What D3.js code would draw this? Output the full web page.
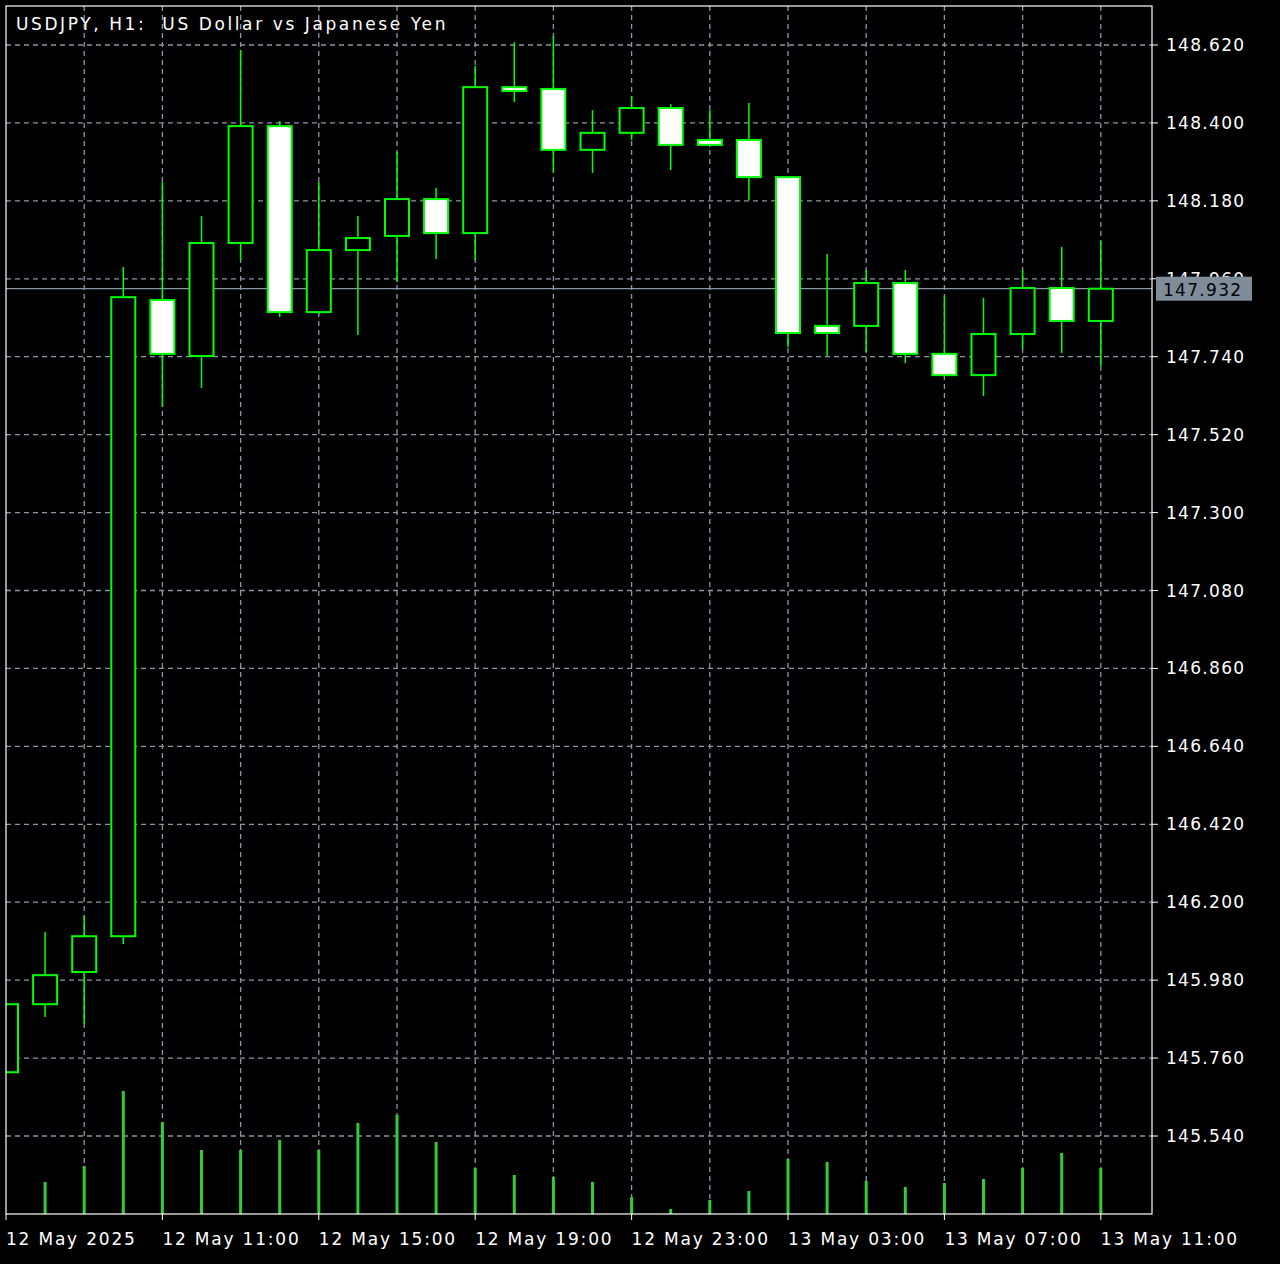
<!DOCTYPE html>
<html><head><meta charset="utf-8">
<script src="https://cdn.jsdelivr.net/npm/d3@7"></script>
<style>body{margin:0;background:#000}svg{display:block}text{white-space:pre}</style></head>
<body><svg id="c" width="1280" height="1264"></svg>
<script>
const times=["12 May 07:00","12 May 08:00","12 May 09:00","12 May 10:00","12 May 11:00","12 May 12:00","12 May 13:00","12 May 14:00","12 May 15:00","12 May 16:00","12 May 17:00","12 May 18:00","12 May 19:00","12 May 20:00","12 May 21:00","12 May 22:00","12 May 23:00","13 May 00:00","13 May 01:00","13 May 02:00","13 May 03:00","13 May 04:00","13 May 05:00","13 May 06:00","13 May 07:00","13 May 08:00","13 May 09:00","13 May 10:00","13 May 11:00"];
const opens=[145.720,145.912,146.003,146.104,147.900,147.742,148.061,148.391,147.866,148.041,148.081,148.185,148.089,148.501,148.496,148.324,148.372,148.442,148.352,148.352,148.247,147.827,147.827,147.948,147.748,147.688,147.804,147.934,147.841];
const closes=[145.912,145.994,146.104,147.908,147.748,148.061,148.391,147.866,148.041,148.075,148.185,148.089,148.501,148.490,148.324,148.372,148.442,148.338,148.338,148.247,147.807,147.807,147.948,147.748,147.688,147.804,147.934,147.841,147.932];
const highs=[145.912,146.116,146.161,147.993,148.233,148.137,148.606,148.405,148.233,148.137,148.318,148.216,148.561,148.628,148.645,148.436,148.476,148.453,148.436,148.456,148.247,148.030,147.985,147.985,147.911,147.906,147.985,148.050,148.067];
const lows=[145.720,145.876,145.856,146.082,147.598,147.652,148.013,147.852,147.860,147.801,147.951,148.016,148.013,148.459,148.261,148.259,148.352,148.267,148.332,148.182,147.767,147.742,147.753,147.722,147.685,147.629,147.762,147.750,147.714];
const volumes=[0,1600,2400,6150,4600,3200,3200,3700,3200,4550,4950,3600,2300,1950,1850,1600,850,250,700,1150,2750,2600,1650,1350,1550,1750,2300,3050,2300];
const priceTicks=[148.620,148.400,148.180,147.960,147.740,147.520,147.300,147.080,146.860,146.640,146.420,146.200,145.980,145.760,145.540];
const title="USDJPY, H1:  US Dollar vs Japanese Yen";
const lastPrice=147.932;

const svg=d3.select("#c");
const L=6,R=1152,T=6,B=1214;
const font="DejaVu Sans";
const x=d3.scaleLinear().domain([0,1]).range([6,45.1]);
const y=d3.scaleLinear().domain([145.540,148.620]).range([1136,45]);
const vy=d3.scaleLinear().domain([0,6150]).range([B,1091]);
const grid="#8c97a6";
svg.append("rect").attr("x",L).attr("y",T).attr("width",R-L).attr("height",B-T).attr("fill","#000");
svg.append("clipPath").attr("id","cp").append("rect").attr("x",L).attr("y",T).attr("width",R-L).attr("height",B-T);
const g=svg.append("g").attr("clip-path","url(#cp)");
priceTicks.forEach(p=>{
 g.append("line").attr("x1",L).attr("x2",R).attr("y1",y(p)).attr("y2",y(p)).attr("stroke",grid).attr("stroke-dasharray","5,4").attr("stroke-width",1.3);
});
d3.range(2,29,2).forEach(i=>{
 g.append("line").attr("x1",x(i)).attr("x2",x(i)).attr("y1",T).attr("y2",B).attr("stroke",grid).attr("stroke-dasharray","5,4").attr("stroke-width",1.3);
});
g.append("line").attr("x1",L).attr("x2",R).attr("y1",y(lastPrice)).attr("y2",y(lastPrice)).attr("stroke","#8c97a6").attr("stroke-width",1.2);
volumes.forEach((v,i)=>{ if(v>0) g.append("line").attr("x1",x(i)).attr("x2",x(i)).attr("y1",B).attr("y2",vy(v)).attr("stroke","#32cd32").attr("stroke-width",3);});
const green="#00ff00";
times.forEach((t,i)=>{
 const o=opens[i],c=closes[i];
 g.append("line").attr("x1",x(i)).attr("x2",x(i)).attr("y1",y(highs[i])).attr("y2",y(lows[i])).attr("stroke",green).attr("stroke-width",1.5);
 const top=y(Math.max(o,c)),bot=y(Math.min(o,c));
 g.append("rect").attr("x",x(i)-12).attr("y",top).attr("width",24).attr("height",Math.max(1,bot-top))
  .attr("fill",c>=o?"#000":"#fff").attr("stroke",green).attr("stroke-width",2);
});
svg.append("rect").attr("x",L).attr("y",T).attr("width",R-L).attr("height",B-T).attr("fill","none").attr("stroke","#fff").attr("stroke-width",1.2);
priceTicks.forEach(p=>{
 svg.append("line").attr("x1",R).attr("x2",R+6).attr("y1",y(p)).attr("y2",y(p)).attr("stroke","#fff");
 svg.append("text").attr("x",1166).attr("y",y(p)+6).attr("fill","#fff").attr("font-family",font).attr("font-size",17).attr("letter-spacing",1.3).text(p.toFixed(3));
});
svg.append("rect").attr("x",1156).attr("y",y(lastPrice)-12).attr("width",96).attr("height",24).attr("fill","#7f8d9a");
svg.append("text").attr("x",1163).attr("y",y(lastPrice)+7).attr("fill","#000").attr("font-family",font).attr("font-size",17).attr("letter-spacing",1.3).text(lastPrice.toFixed(3));
d3.range(0,29,4).forEach(i=>{
 svg.append("line").attr("x1",x(i)).attr("x2",x(i)).attr("y1",B).attr("y2",B+6).attr("stroke","#fff");
 const lab=i===0?"12 May 2025":times[i];
 svg.append("text").attr("x",x(i)).attr("y",1245).attr("fill","#fff").attr("font-family",font).attr("font-size",17).attr("letter-spacing",1.8).text(lab);
});
svg.append("text").attr("x",16).attr("y",30).attr("fill","#fff").attr("font-family",font).attr("font-size",17).attr("letter-spacing",2.6).text(title);
</script></body></html>
